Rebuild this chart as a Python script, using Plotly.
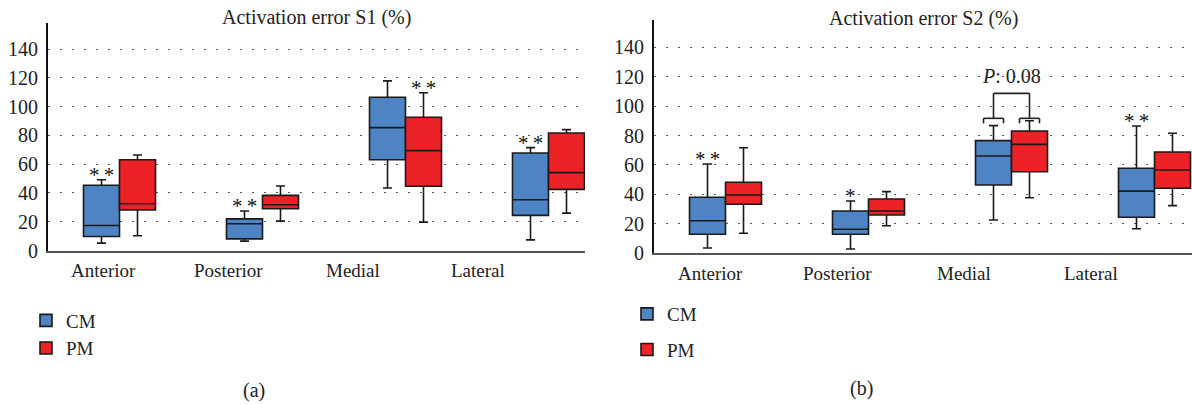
import plotly.graph_objects as go

# ---------------- data ----------------
categories = ["Anterior", "Posterior", "Medial", "Lateral"]
y_ticks = [0, 20, 40, 60, 80, 100, 120, 140]

# Panel (a): Activation error S1 (%)
s1_cm_lower = [5.1, 6.5, 43.4, 7.4]
s1_cm_q1 = [9.7, 8.1, 63.1, 24.4]
s1_cm_median = [17.4, 18.6, 85.4, 35.3]
s1_cm_q3 = [45.3, 22.0, 106.5, 67.8]
s1_cm_upper = [49.2, 27.4, 117.9, 71.5]

s1_pm_lower = [10.2, 20.4, 19.7, 26.0]
s1_pm_q1 = [28.1, 29.0, 44.6, 42.5]
s1_pm_median = [32.5, 31.8, 69.4, 54.1]
s1_pm_q3 = [63.1, 38.3, 92.6, 81.7]
s1_pm_upper = [66.4, 44.8, 109.6, 84.0]

# Panel (b): Activation error S2 (%)
s2_cm_lower = [3.5, 2.8, 22.5, 16.6]
s2_cm_q1 = [12.8, 12.8, 46.3, 24.4]
s2_cm_median = [22.0, 16.2, 66.1, 42.2]
s2_cm_q3 = [38.0, 28.6, 76.5, 57.7]
s2_cm_upper = [60.6, 35.4, 86.7, 86.5]

s2_pm_lower = [13.5, 18.6, 37.7, 32.3]
s2_pm_q1 = [33.2, 25.9, 55.4, 44.1]
s2_pm_median = [39.5, 28.6, 74.0, 56.5]
s2_pm_q3 = [48.2, 36.8, 83.1, 68.8]
s2_pm_upper = [71.7, 41.8, 90.1, 81.5]

# significance marks
s1_marks_cm = ["**", "**", "", "**"]
s1_marks_pm = ["", "", "**", ""]
s2_marks_cm = ["**", "*", "", "**"]
s2_marks_pm = ["", "", "", ""]
p_label = "<i>P</i>: 0.08"
p_category = "Medial"

# ---------------- style / layout ----------------
W, H = 1192, 404          # target picture size
FIG_H = 415               # figure height (picture is fitted into 404 rows)
FONT = "Liberation Serif, Times New Roman, serif"
BLUE = "#4F84C4"
RED = "#EC2227"
TXT = "#222222"


def px_x(p):
    return p / W


def px_y(p):
    return 1 - p / H


fig = go.Figure()


def add_box(name, color, lower, q1, med, q3, upper, xa, ya, legend, group):
    fig.add_trace(go.Box(
        x=categories, lowerfence=lower, q1=q1, median=med, q3=q3, upperfence=upper,
        name=name, fillcolor=color, line=dict(color="#1a1a1a", width=1.6),
        whiskerwidth=0.25, boxpoints=False, xaxis=xa, yaxis=ya,
        legend=legend, legendgroup=group, showlegend=True,
        offsetgroup=name, alignmentgroup=xa,
    ))


add_box("CM", BLUE, s1_cm_lower, s1_cm_q1, s1_cm_median, s1_cm_q3, s1_cm_upper, "x", "y", "legend", "a_cm")
add_box("PM", RED, s1_pm_lower, s1_pm_q1, s1_pm_median, s1_pm_q3, s1_pm_upper, "x", "y", "legend", "a_pm")
add_box("CM", BLUE, s2_cm_lower, s2_cm_q1, s2_cm_median, s2_cm_q3, s2_cm_upper, "x2", "y2", "legend2", "b_cm")
add_box("PM", RED, s2_pm_lower, s2_pm_q1, s2_pm_median, s2_pm_q3, s2_pm_upper, "x2", "y2", "legend2", "b_pm")

CAT_PX = 143.0
BOX_OFF = 18.0 / CAT_PX  # centre offset of each box from category centre

panels = [
    dict(x0=48, x1=585, yb=250.5, yt=22.7, ymax=158.3, lab0=103, labstep=125.0, laby=270),
    dict(x0=654, x1=1192, yb=253.1, yt=20.0, ymax=158.6, lab0=710.5, labstep=126.7, laby=273),
]

yaxis_common = dict(
    tickvals=y_ticks, showgrid=True, gridcolor="#5a5a5a", griddash="2px,10px", gridwidth=1.4,
    zeroline=False, showline=True, linecolor="#111111", linewidth=2, ticks="",
    tickfont=dict(family=FONT, size=20, color=TXT), ticklabelstandoff=4,
)
xaxis_common = dict(
    type="category", showgrid=False, zeroline=False, showline=True, linecolor="#555555",
    linewidth=2, ticks="", showticklabels=False,
)

layout = {}
annotations = []
for i, p in enumerate(panels):
    sx = "" if i == 0 else "2"
    layout["xaxis" + sx] = dict(xaxis_common, domain=[px_x(p["x0"]), px_x(p["x1"])],
                                range=[-0.5, -0.5 + (p["x1"] - p["x0"]) / CAT_PX],
                                anchor="y" + sx)
    layout["yaxis" + sx] = dict(yaxis_common, domain=[px_y(p["yb"]), px_y(p["yt"])],
                                range=[0, p["ymax"]], anchor="x" + sx)
    # category labels (offset from the boxes in the original figure)
    for k, c in enumerate(categories):
        annotations.append(dict(text=c, x=px_x(p["lab0"] + k * p["labstep"]), y=px_y(p["laby"]),
                                xref="paper", yref="paper", xanchor="center", yanchor="middle",
                                showarrow=False, font=dict(family=FONT, size=19, color=TXT)))

fig.update_layout(**layout)


def paper_text(text, cx, cy, size=20):
    annotations.append(dict(text=text, x=px_x(cx), y=px_y(cy), xref="paper", yref="paper",
                            xanchor="center", yanchor="middle", showarrow=False,
                            font=dict(family=FONT, size=size, color=TXT)))


paper_text("Activation error S1 (%)", 316.5, 17)
paper_text("Activation error S2 (%)", 923, 18)
paper_text("(a)", 253.5, 390)
paper_text("(b)", 861.7, 388)


def add_marks(marks, upper, offset, xr, yr):
    for i, m in enumerate(marks):
        if m:
            annotations.append(dict(text="\u2009".join(m), x=i + offset, y=upper[i], xref=xr, yref=yr,
                                    xanchor="center", yanchor="middle", yshift=5, showarrow=False,
                                    font=dict(family=FONT, size=21, color="#111111")))


add_marks(s1_marks_cm, s1_cm_upper, -BOX_OFF, "x", "y")
add_marks(s1_marks_pm, s1_pm_upper, BOX_OFF, "x", "y")
add_marks(s2_marks_cm, s2_cm_upper, -BOX_OFF, "x2", "y2")
add_marks(s2_marks_pm, s2_pm_upper, BOX_OFF, "x2", "y2")

# P-value bracket over Medial in panel (b)
mi = categories.index(p_category)
half = 10.0 / CAT_PX
y_small, y_tick, y_big = 91.7, 88.3, 108.7
shapes = []
line_style = dict(color="#222222", width=1.6)
for c in (mi - BOX_OFF, mi + BOX_OFF):
    shapes.append(dict(type="line", xref="x2", yref="y2", x0=c - half, x1=c + half, y0=y_small, y1=y_small, line=line_style))
    shapes.append(dict(type="line", xref="x2", yref="y2", x0=c - half, x1=c - half, y0=y_tick, y1=y_small, line=line_style))
    shapes.append(dict(type="line", xref="x2", yref="y2", x0=c + half, x1=c + half, y0=y_tick, y1=y_small, line=line_style))
    shapes.append(dict(type="line", xref="x2", yref="y2", x0=c, x1=c, y0=y_small, y1=y_big, line=line_style))
shapes.append(dict(type="line", xref="x2", yref="y2", x0=mi - BOX_OFF, x1=mi + BOX_OFF, y0=y_big, y1=y_big, line=line_style))
annotations.append(dict(text=p_label, x=mi, y=120.5, xref="x2", yref="y2", showarrow=False,
                        xanchor="center", yanchor="middle",
                        font=dict(family=FONT, size=20, color=TXT)))

fig.update_layout(
    width=W, height=FIG_H, margin=dict(l=0, r=0, t=0, b=0),
    paper_bgcolor="white", plot_bgcolor="white",
    boxmode="group", boxgap=1 - 72.0 / CAT_PX, boxgroupgap=0,
    annotations=annotations, shapes=shapes,
    legend=dict(x=px_x(26), y=px_y(301.5), xanchor="left", yanchor="top", traceorder="grouped",
                tracegroupgap=0, bgcolor="rgba(0,0,0,0)", font=dict(family=FONT, size=19, color=TXT)),
    legend2=dict(x=px_x(627), y=px_y(295), xanchor="left", yanchor="top", traceorder="grouped",
                 tracegroupgap=8, bgcolor="rgba(0,0,0,0)", font=dict(family=FONT, size=19, color=TXT)),
)

fig.write_html("out.html", config={"displayModeBar": False},
               post_script="document.body.style.margin='0';document.body.style.overflow='hidden';")
